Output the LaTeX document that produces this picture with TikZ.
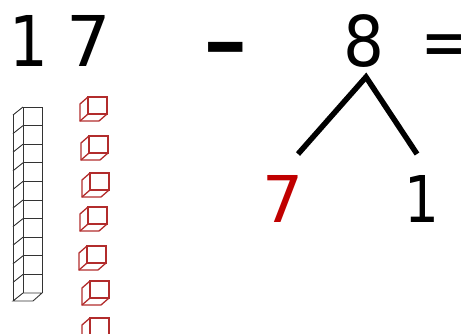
\documentclass[tikz,border=0pt]{standalone}
\usepackage{fontspec}
\setmainfont{DejaVu Sans}
\definecolor{cubered}{RGB}{178,44,44}
\definecolor{numred}{RGB}{192,0,0}
\begin{document}
\begin{tikzpicture}[x=1pt,y=-1pt,
  big/.style={font=\fontsize{70}{70}\selectfont,inner sep=0pt,anchor=base},
  low/.style={font=\fontsize{64.5}{64.5}\selectfont,inner sep=0pt,anchor=base},
  treeline/.style={line width=5.5pt,black},
  rodline/.style={line width=0.9pt,black!80},
  cubeline/.style={line width=1.3pt,cubered},
  ucube/.pic={
    \draw[cubeline] (0,0) rectangle (19,17);
    \draw[cubeline] (0,0) -- (-8,7) -- (-8,24) -- (11,24) -- (19,17);
    \draw[cubeline] (0,17) -- (-8,24);
  }]
\useasboundingbox (0,0) rectangle (466,333);
\clip (0,0) rectangle (466,333);
% top line
\node[big,xscale=0.87] (one) at (28.5,66) {1};
\node[big] (seven) at (89,66) {7};
\node[big,font=\fontsize{70}{70}\bfseries,xscale=1.6] (minus) at (225.5,67) {-};
\node[big,xscale=0.92] (eight) at (364,66) {8};
\node[big,xscale=0.78] (equals) at (444.5,66) {=};
% decomposition
\node[low,text=numred] (sevenb) at (283,222) {7};
\node[low,xscale=0.85] (oneb) at (421.5,222) {1};
\coordinate (apex) at (366,77);
\coordinate (lend) at (298,154);
\coordinate (rend) at (417,154);
\draw[treeline] (lend) -- (apex) -- (rend);
% ten rod
\foreach \i in {0,...,9}{
  \pgfmathsetmacro{\yy}{107+18.6*\i}
  \draw[rodline] (23,\yy) -- (42,\yy);
  \draw[rodline] (23,\yy) -- (13,\yy+8);
}
\draw[rodline] (23,107) -- (23,293);
\draw[rodline] (42,107) -- (42,293);
\draw[rodline] (13,115) -- (13,301);
\draw[rodline] (23,293) -- (42,293) -- (33,301) -- (13,301) -- cycle;
% unit cubes
\pic at (88,97) {ucube};
\pic at (89,136) {ucube};
\pic at (90,173) {ucube};
\pic at (88,207) {ucube};
\pic at (87,246) {ucube};
\pic at (90,281) {ucube};
\pic at (90,318) {ucube};
\end{tikzpicture}
\end{document}
